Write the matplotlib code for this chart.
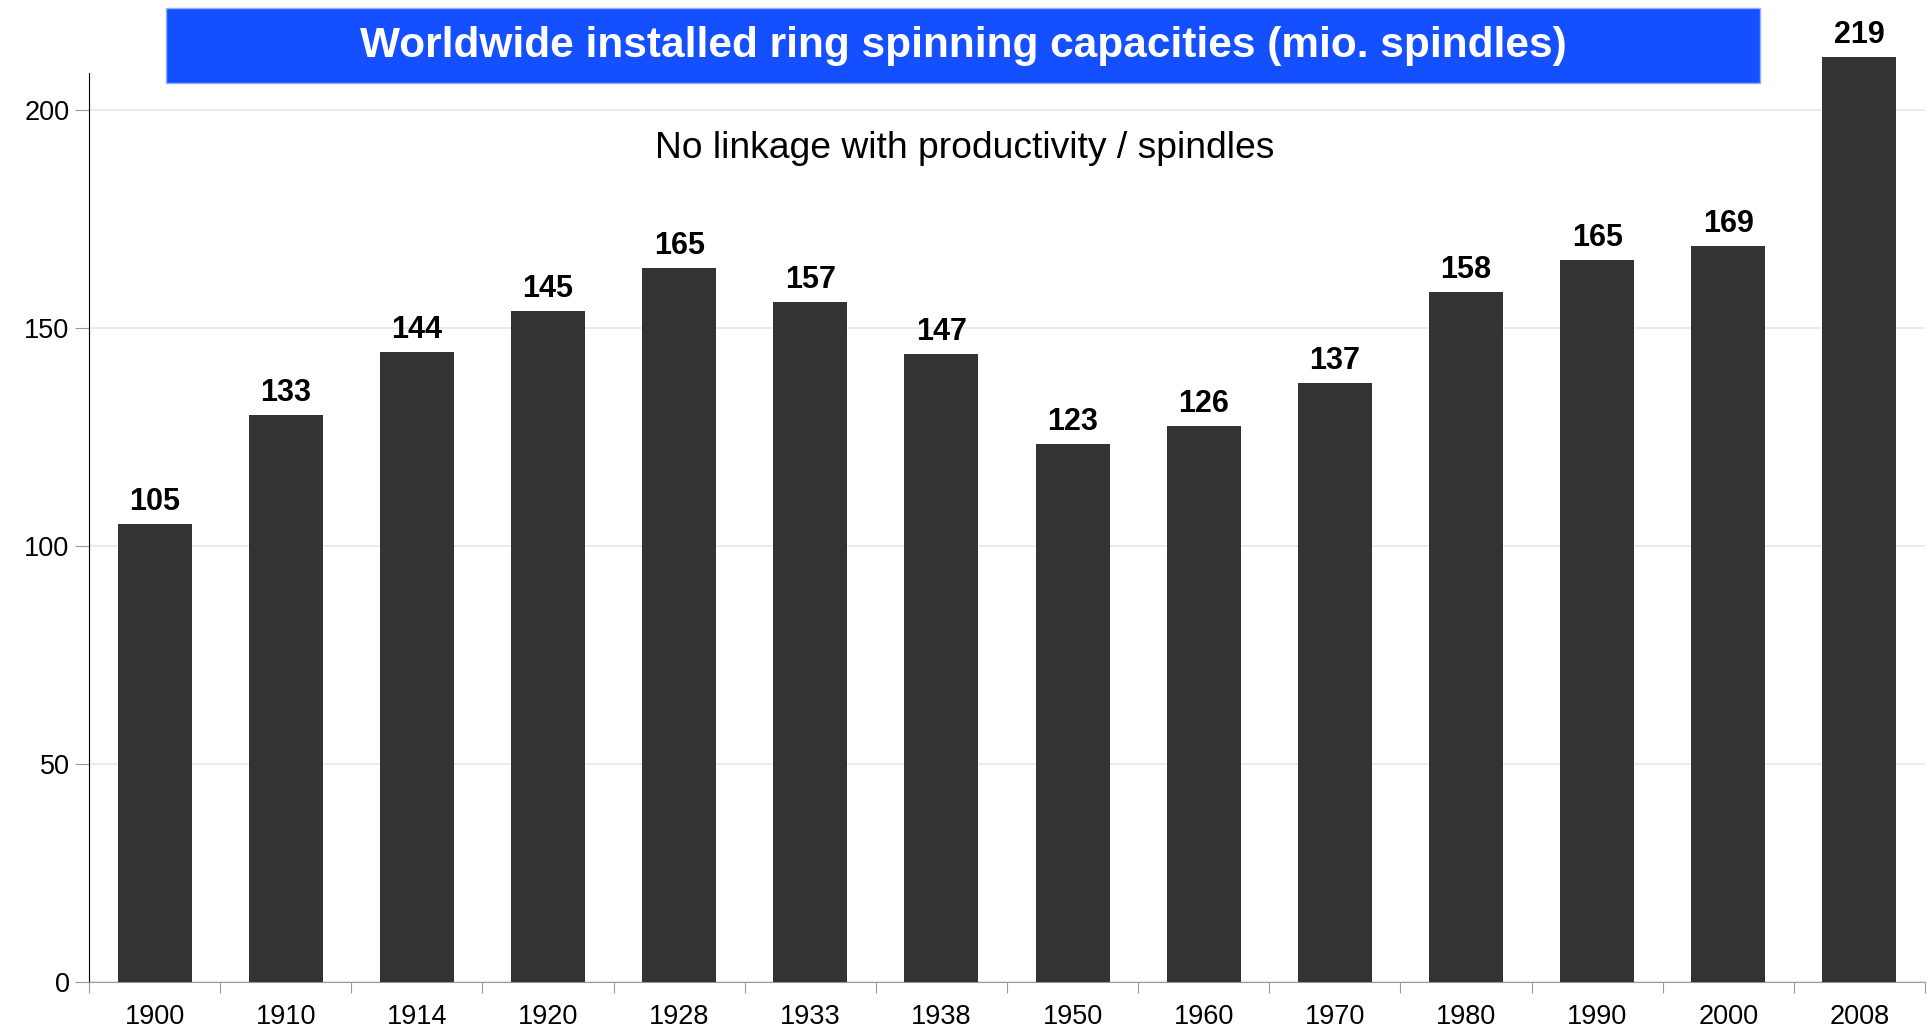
import matplotlib.pyplot as plt
from matplotlib.patches import Rectangle

plt.rcParams['font.family'] = ['Liberation Sans', 'DejaVu Sans']

years = ['1900', '1910', '1914', '1920', '1928', '1933', '1938', '1950',
         '1960', '1970', '1980', '1990', '2000', '2008']
# bar heights as drawn (they don't quite match the printed labels)
heights = [105, 130, 144.5, 154, 163.7, 156, 144, 123.3, 127.5, 137.4, 158.3, 165.7, 168.8, 212.2]
labels = ['105', '133', '144', '145', '165', '157', '147', '123', '126', '137', '158', '165', '169', '219']

W, H = 1930, 1030
fig = plt.figure(figsize=(W / 100, H / 100), dpi=100)
ax = fig.add_axes([89 / W, 1 - 982 / H, (1925 - 89) / W, (982 - 73) / H])

x = range(len(years))
bars = ax.bar(x, heights, width=0.565, color='#333333', zorder=3, clip_on=False)
for b, lab in zip(bars, labels):
    ax.text(b.get_x() + b.get_width() / 2, b.get_height() + 1.6, lab,
            ha='center', va='bottom', fontsize=22, fontweight='bold', clip_on=False)

ax.set_xlim(-0.5, len(years) - 0.5)
ax.set_ylim(0, 208.5)
ax.set_yticks([0, 50, 100, 150, 200])
ax.yaxis.grid(True, color='#e8e8e8', lw=1.2, zorder=0)
ax.set_xticks([i + 0.5 for i in range(-1, len(years))], minor=False)
ax.set_xticklabels([])
ax.set_xticks(list(x), minor=True)
ax.set_xticklabels(years, minor=True)
ax.tick_params(axis='x', which='major', length=8, color='#999999', direction='out')
ax.tick_params(axis='x', which='minor', length=0, labelsize=19.5, pad=16)
ax.tick_params(axis='y', length=10, color='#999999', labelsize=19.5, pad=4)

for s in ['top', 'right']:
    ax.spines[s].set_visible(False)
ax.spines['left'].set_color('black')
ax.spines['bottom'].set_color('#999999')

# title banner
fig.patches.append(Rectangle((166 / W, 1 - 83 / H), (1760 - 166) / W, 75 / H,
                             transform=fig.transFigure, facecolor='#1450ff',
                             edgecolor='#8fb0ff', lw=1, zorder=5))
fig.text(963 / W, 1 - 46 / H, 'Worldwide installed ring spinning capacities (mio. spindles)',
         ha='center', va='center', color='white', fontsize=30.5, fontweight='bold', zorder=6)

fig.text(965 / W, 1 - 149 / H, 'No linkage with productivity / spindles',
         ha='center', va='center', fontsize=26.8)

fig.savefig('out.png', dpi=100)
